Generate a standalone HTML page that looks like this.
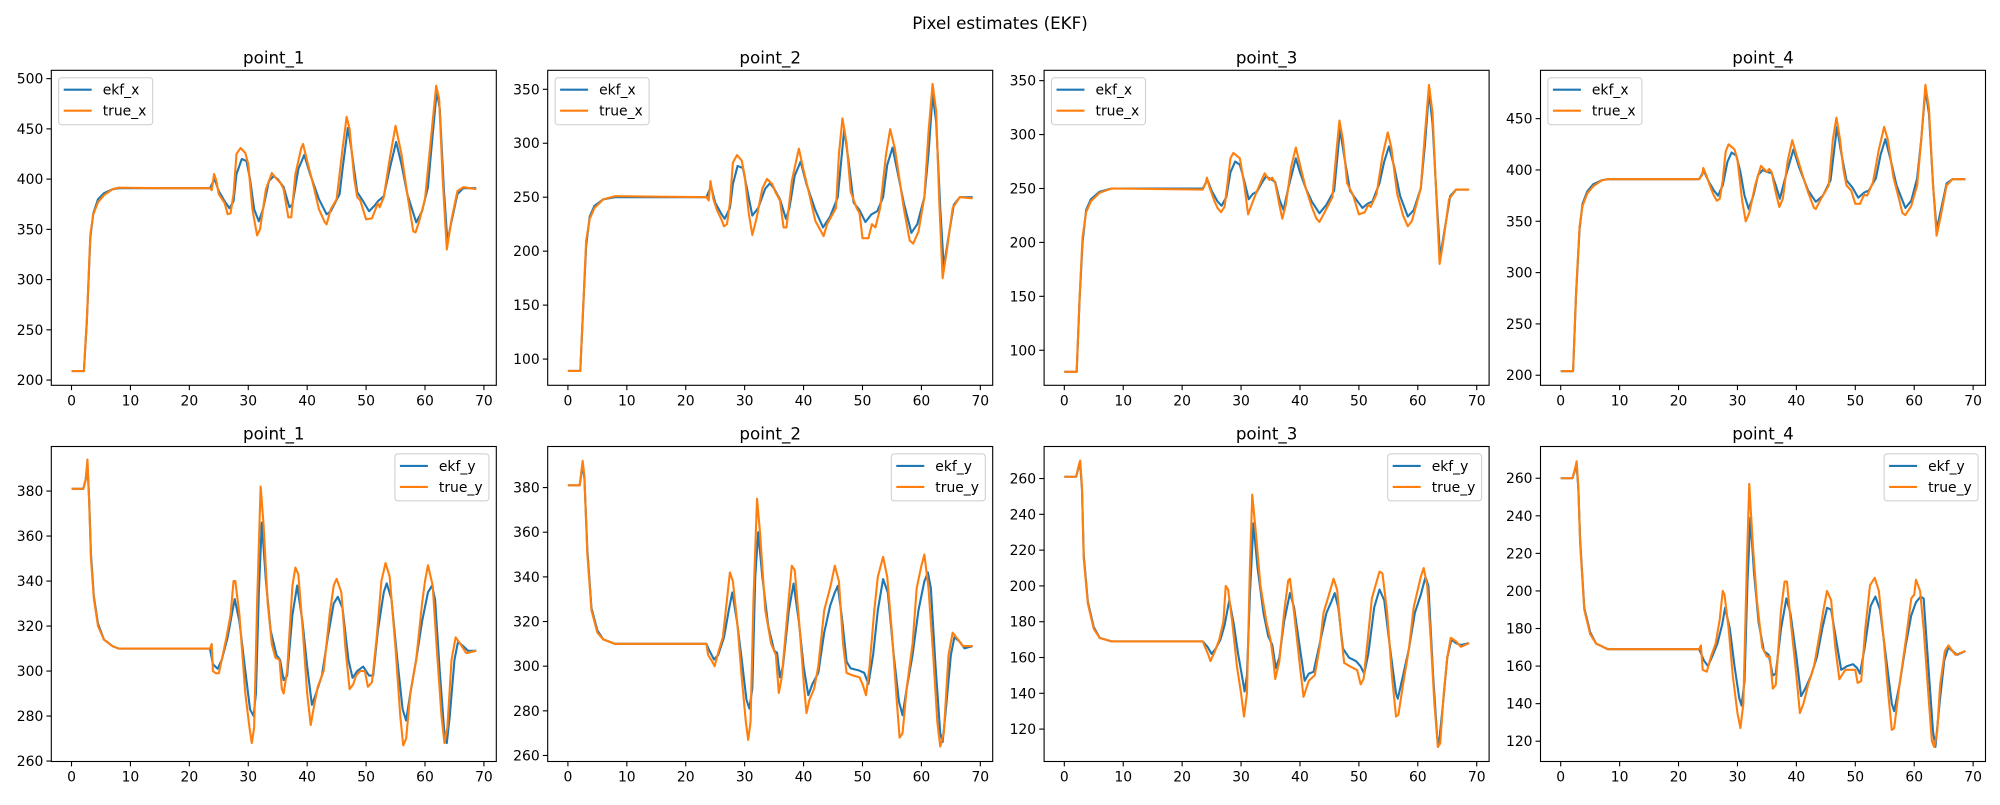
<!DOCTYPE html>
<html><head><meta charset="utf-8"><style>
html,body{margin:0;padding:0;background:#fff;}
svg text{font-family:"DejaVu Sans","Liberation Sans",sans-serif;fill:#000;}
</style></head><body>
<svg id="fig" width="2000" height="800" viewBox="0 0 2000 800" xmlns="http://www.w3.org/2000/svg">
<rect width="2000" height="800" fill="#fff"/>
<text x="1000" y="29" font-size="16.7" text-anchor="middle">Pixel estimates (EKF)</text>
</svg>
<script>
const xTicks=[0,10,20,30,40,50,60,70];
const xLim=[-3.43,72.1];
const titles=["point_1","point_2","point_3","point_4"];
const yLimTop=[[194.8,508.3],[75.7,367.6],[67.5,359.6],[190.2,497.1]];
const yTicksTop=[[200,250,300,350,400,450,500],[100,150,200,250,300,350],[100,150,200,250,300,350],[200,250,300,350,400,450]];
const yLimBot=[[259.8,399.8],[257.3,398.4],[101.9,277.9],[109.2,276.9]];
const yTicksBot=[[260,280,300,320,340,360,380],[260,280,300,320,340,360,380],[120,140,160,180,200,220,240,260],[120,140,160,180,200,220,240,260]];

const trueX1=[[0,209],[2.1,209],[2.6,260],[3.2,345],[3.7,365],[4.5,377],[5.5,384],[7,390],[8,391.5],[15,391],[23.5,391],[23.8,389],[24.2,405],[24.6,398],[25,385],[26,376],[26.5,365],[27,366],[27.5,385],[28,425],[28.7,431],[29.5,426],[30,415],[30.7,370],[31.5,344],[32,350],[33,390],[34,406],[35,399],[35.5,396],[36,390],[36.8,362],[37.3,362],[38,405],[39,431],[39.3,435],[40,418],[41,395],[42,370],[43,357],[43.3,355],[44,370],[45,380],[46,430],[46.7,462],[47.2,450],[48,400],[48.5,382],[49,379],[50,360],[51,361],[52,376],[52.3,372],[53,382],[54,420],[55,453],[56,425],[57,385],[58,348],[58.4,347],[59,358],[60,380],[61,440],[61.9,493],[62.4,480],[63,400],[63.7,330],[64.5,360],[65.5,388],[66.5,392],[68.7,390]];
const ekfX1=[[0,209],[2.1,209],[2.6,258],[3.2,342],[3.7,366],[4.5,380],[5.5,386],[7,390],[8,391],[15,391],[23.5,391],[24.3,400],[25,388],[26,378],[26.8,371],[27.5,378],[28,405],[28.9,420],[29.7,418],[30.3,400],[31,370],[31.8,358],[32.5,370],[33.5,398],[34.3,403],[35,400],[36,392],[37,372],[37.5,375],[38.5,410],[39.5,424],[40.5,405],[42,380],[43.3,365],[44,368],[45.5,385],[46,410],[46.9,451],[47.5,430],[48.5,387],[49.5,378],[50.5,368],[51.5,374],[52,378],[53,383],[54,410],[55.1,437],[56,415],[57,385],[58.5,357],[59.5,368],[60.5,392],[61,425],[62,488],[62.5,470],[63.2,390],[63.8,338],[64.5,358],[65.5,385],[66.5,391],[68.7,391]];
const trueX2=[[0,89],[2.1,89],[2.6,150],[3.1,210],[3.7,230],[4.5,240],[6,248],[8,251],[23.5,250],[23.9,247],[24.2,265],[24.7,248],[25.3,238],[26,230],[26.5,223],[27,225],[27.5,245],[28,282],[28.7,289],[29.5,284],[30,270],[30.7,235],[31.3,215],[32,230],[33,258],[33.8,267],[34.7,262],[35.2,255],[36,247],[36.6,222],[37.1,222],[38,265],[39.2,295],[40,275],[41,252],[42,228],[43,218],[43.4,214],[44,225],[45.5,240],[46,290],[46.6,323],[47.3,300],[48,255],[49,240],[49.5,235],[50,212],[51,212],[51.6,225],[52.2,222],[53,240],[54,290],[54.7,313],[55.5,295],[57,240],[58,210],[58.6,207],[59.5,218],[60.5,250],[61.2,310],[61.9,355],[62.5,330],[63,250],[63.6,175],[64.3,200],[65.3,240],[66.5,250],[68.7,249]];
const ekfX2=[[0,89],[2.1,89],[2.6,148],[3.1,205],[3.7,232],[4.5,242],[6,248],[8,250],[23.5,250],[24.3,260],[25,245],[26,235],[26.6,230],[27.5,240],[28,262],[28.8,279],[29.7,277],[30.5,255],[31.3,233],[32.3,240],[33.5,258],[34.3,263],[35,258],[36,248],[37,230],[37.6,240],[38.5,270],[39.5,283],[40.5,262],[42,238],[43.3,222],[44.5,232],[45.8,250],[46.9,313],[47.6,285],[48.5,245],[49.5,238],[50.5,227],[51.5,234],[52.5,237],[53.5,250],[54.2,280],[55.1,296],[56,272],[57,245],[58.3,217],[59.3,225],[60.5,250],[61.2,290],[61.9,345],[62.5,320],[63.2,240],[63.8,185],[64.5,210],[65.5,243],[66.5,250],[68.7,250]];
const trueX3=[[0,80],[2.1,80],[2.6,150],[3.1,205],[3.7,228],[4.5,238],[6,246],[8,250],[23.5,249],[24,255],[24.2,260],[24.6,252],[25.5,238],[26,232],[26.6,228],[27.2,233],[27.7,255],[28.2,278],[28.7,283],[29.8,278],[30.5,255],[31.2,226],[31.8,235],[32.5,245],[33.5,258],[34,264],[34.8,258],[35.3,260],[35.8,255],[36.5,235],[37,222],[37.6,235],[38.5,270],[39.3,288],[40,272],[41,250],[42,233],[42.8,222],[43.3,219],[44,226],[45.5,242],[46.2,285],[46.7,313],[47.3,295],[48,255],[49,244],[50,226],[51,228],[51.6,235],[52,233],[53,245],[54,280],[54.9,302],[55.5,288],[56.5,245],[57.5,225],[58.3,215],[59,220],[60.5,250],[61.2,300],[61.9,346],[62.5,320],[63,260],[63.7,180],[64.3,200],[65.3,240],[66.5,249],[68.7,249]];
const ekfX3=[[0,80],[2.1,80],[2.6,148],[3.1,200],[3.7,230],[4.5,240],[6,247],[8,250],[23.5,250],[24.3,258],[25,248],[26,238],[26.7,234],[27.5,242],[28.2,265],[29,275],[29.8,272],[30.5,258],[31.3,240],[32,245],[32.7,247],[33.5,255],[34.2,261],[35,259],[35.8,256],[36.5,240],[37.2,230],[38,250],[39.3,278],[40,265],[41,250],[42,238],[43.3,227],[44.5,235],[45.8,248],[46.8,305],[47.5,280],[48.5,248],[49.5,240],[50.6,232],[51.5,236],[52.3,238],[53.5,255],[54.3,275],[55.1,289],[56,270],[57,243],[58.3,224],[59.3,230],[60.5,250],[61.2,290],[61.9,340],[62.5,310],[63.2,240],[63.8,186],[64.5,210],[65.5,243],[66.5,249],[68.7,249]];
const trueX4=[[0,204],[2.1,204],[2.6,280],[3.2,345],[3.7,365],[4.5,377],[5.5,384],[7,390],[8,391],[23.5,391],[24,395],[24.2,402],[24.7,395],[25.5,382],[26,375],[26.5,370],[27,372],[27.5,390],[28,418],[28.5,425],[29.5,420],[30,410],[30.8,370],[31.4,350],[32,358],[33,385],[34,404],[35,398],[35.4,401],[35.8,398],[36.5,378],[37.1,364],[37.7,372],[38.5,408],[39.3,429],[40,415],[41,396],[42,378],[43,363],[43.3,362],[44,370],[45.5,385],[46.2,430],[46.8,451],[47.4,430],[48,400],[48.5,385],[49.3,380],[50,367],[50.8,367],[51.5,376],[52,375],[53,388],[54,420],[54.9,442],[55.5,430],[56.5,392],[57.5,370],[58,358],[58.5,356],[59.5,365],[60.5,385],[61.2,430],[61.9,483],[62.5,460],[63.2,385],[63.8,336],[64.5,355],[65.5,385],[66.5,391],[68.7,391]];
const ekfX4=[[0,204],[2.1,204],[2.6,278],[3.2,342],[3.7,367],[4.5,379],[5.5,386],[7,390],[8,391],[23.5,391],[24.3,399],[25,390],[26,380],[26.7,375],[27.5,385],[28.3,408],[29,417],[29.8,414],[30.5,398],[31.2,375],[31.9,362],[32.7,375],[33.5,395],[34.3,400],[35,398],[35.8,397],[36.5,385],[37.2,372],[38,390],[39.5,420],[40.5,402],[42,380],[43.3,369],[44.5,375],[45.8,390],[46.9,442],[47.5,420],[48.5,390],[49.5,383],[50.5,373],[51.5,378],[52.3,380],[53.5,392],[54.3,415],[55.1,430],[56,410],[57,385],[58.5,363],[59.5,370],[60.5,392],[61.2,430],[61.9,478],[62.5,455],[63.2,385],[63.8,342],[64.5,360],[65.5,387],[66.5,391],[68.7,391]];

const trueY1=[[0,381],[2,381],[2.4,385],[2.7,394],[3,375],[3.3,350],[3.8,332],[4.5,320],[5.5,314],[7,311],[8,310],[10,310],[23.5,310],[23.8,312],[24,300],[24.5,299],[25,299],[25.5,305],[26.3,315],[27,325],[27.5,340],[27.8,340],[28.5,325],[29.5,290],[30.2,275],[30.6,268],[31,275],[31.5,330],[32.1,382],[32.6,365],[33.3,330],[34,312],[34.6,306],[35.3,305],[35.7,292],[36,290],[36.6,300],[37.5,338],[38,346],[38.5,343],[39.2,320],[40,290],[40.6,276],[41.2,285],[41.8,293],[42.8,300],[43.8,325],[44.5,338],[45,341],[45.8,335],[46.5,310],[47.2,292],[47.8,294],[48.3,298],[49,300],[49.8,300],[50.3,293],[51,295],[51.8,315],[52.6,340],[53.3,348],[54,342],[55,310],[55.8,280],[56.3,267],[56.8,270],[57.5,290],[58.5,305],[59.5,330],[60,340],[60.5,347],[61.3,338],[62,310],[62.8,280],[63.3,268],[63.8,275],[64.5,305],[65.2,315],[66,312],[67,308],[68.7,309]];
const ekfY1=[[0,381],[2,381],[2.4,385],[2.7,392],[3,376],[3.3,352],[3.8,333],[4.5,321],[5.5,314],[7,311],[8,310],[10,310],[23.5,310],[24,303],[24.8,301],[25.5,305],[26.5,315],[27.2,325],[27.7,332],[28.5,322],[29.5,300],[30.3,283],[30.9,280],[31.3,290],[31.8,335],[32.3,366],[33,340],[33.8,318],[34.8,307],[35.4,305],[36,296],[36.6,298],[37.5,325],[38.3,338],[39.2,322],[40,302],[40.8,285],[41.5,290],[42.5,298],[43.5,315],[44.5,330],[45.2,333],[46,328],[47,305],[47.7,297],[48.5,300],[49.5,302],[50.5,298],[51.2,298],[52,318],[53,335],[53.5,339],[54.3,332],[55.3,305],[56.2,283],[56.8,278],[57.5,290],[58.5,305],[59.5,322],[60.5,335],[61.2,338],[61.7,332],[62.5,300],[63.3,272],[63.7,268],[64.2,280],[65,305],[65.6,313],[66.5,311],[67.3,309],[68.7,309]];
const trueY2=[[0,381],[2,381],[2.5,392],[2.8,385],[3.3,350],[4,325],[5,315],[6,312],[8,310],[23.5,310],[23.8,305],[24.5,302],[24.9,300],[25.5,306],[26.3,313],[27,330],[27.5,342],[28,338],[28.8,318],[29.5,295],[30.2,275],[30.6,267],[31,275],[31.5,330],[32.1,375],[32.6,360],[33.5,325],[34.5,310],[35.3,305],[35.8,288],[36.3,295],[37.3,325],[38,345],[38.5,343],[39.3,318],[40.1,290],[40.5,279],[41,285],[41.8,290],[42.5,300],[43.5,325],[44.5,335],[45.3,345],[46,338],[46.7,310],[47.3,297],[48.2,296],[49.5,295],[50,292],[50.6,287],[51.2,300],[52,325],[52.6,340],[53.5,349],[54.2,340],[55,315],[55.8,285],[56.3,268],[56.8,270],[57.5,290],[58.5,310],[59.2,335],[60,345],[60.5,350],[61.2,335],[62,305],[62.7,275],[63.2,264],[63.8,270],[64.6,305],[65.3,315],[66.2,312],[67,309],[68.7,309]];
const ekfY2=[[0,381],[2,381],[2.5,390],[2.8,384],[3.3,352],[4,326],[5,316],[6,312],[8,310],[23.5,310],[24,307],[24.8,303],[25.5,305],[26.5,313],[27.3,325],[27.9,333],[28.7,320],[29.5,303],[30.3,285],[30.8,281],[31.3,290],[31.8,340],[32.3,360],[33,340],[34,318],[35,307],[35.5,306],[36,295],[36.5,300],[37.5,325],[38.3,337],[39.2,320],[40,300],[40.8,287],[41.5,292],[42.5,297],[43.5,315],[44.5,327],[45.3,333],[45.8,336],[46.5,322],[47.3,302],[48,299],[49.5,298],[50.3,297],[51,292],[51.8,305],[52.6,325],[53.5,339],[54.3,333],[55.3,305],[56.2,284],[56.8,278],[57.5,290],[58.5,305],[59.5,325],[60.5,338],[61.1,342],[61.6,335],[62.4,300],[63.2,270],[63.6,266],[64.2,282],[65,305],[65.6,313],[66.5,311],[67.3,308],[68.7,309]];
const trueY3=[[0,261],[2,261],[2.5,268],[2.7,270],[3,255],[3.3,215],[4,190],[5,176],[6,171],[8,169],[23.5,169],[24,165],[24.5,161],[24.8,158],[25.5,163],[26.3,170],[27,180],[27.4,200],[27.8,198],[28.5,180],[29.3,155],[30,140],[30.5,127],[31,140],[31.5,210],[31.9,251],[32.5,230],[33.3,200],[34.3,180],[35,170],[35.5,158],[35.8,148],[36.5,158],[37.3,185],[38,203],[38.3,204],[39,185],[40,155],[40.6,138],[41,142],[41.5,147],[42.5,150],[43.3,165],[44,185],[45,196],[45.7,204],[46.3,198],[47,172],[47.5,157],[48.5,155],[49.7,153],[50.3,145],[50.8,148],[51.5,170],[52.2,193],[52.8,200],[53.5,208],[54,207],[54.8,185],[55.6,150],[56.3,127],[56.7,128],[57.5,145],[58.5,165],[59.3,188],[60,198],[60.5,205],[61,210],[61.6,200],[62.2,170],[62.8,135],[63.4,110],[63.8,112],[64.4,140],[65,160],[65.6,171],[66.5,169],[67.3,166],[68.7,168]];
const ekfY3=[[0,261],[2,261],[2.5,267],[2.7,268],[3,254],[3.3,217],[4,191],[5,177],[6,171],[8,169],[23.5,169],[24.3,166],[25,162],[25.7,165],[26.5,170],[27.2,178],[28,192],[28.8,178],[29.5,162],[30.3,147],[30.6,141],[31,150],[31.5,195],[32.1,235],[32.8,210],[33.8,185],[34.6,172],[35.3,167],[35.9,154],[36.5,160],[37.3,180],[38.3,196],[39,188],[40,165],[40.8,147],[41.5,151],[42.3,152],[43.5,170],[44.5,185],[45.3,191],[45.9,196],[46.5,188],[47.3,165],[48.3,160],[49.5,158],[50.3,155],[50.9,151],[51.6,162],[52.6,188],[53.5,198],[54.3,192],[55.3,165],[56.3,140],[56.6,137],[57.5,150],[58.5,165],[59.5,185],[60.5,195],[61.3,205],[61.8,200],[62.6,150],[63.3,115],[63.6,112],[64.3,135],[65,160],[65.7,170],[66.5,168],[67.3,167],[68.7,168]];
const trueY4=[[0,260],[2,260],[2.5,266],[2.7,269],[3,255],[3.3,225],[4,190],[5,177],[6,172],[8,169],[23.5,169],[23.8,171],[24.1,158],[24.8,157],[25.5,165],[26.3,172],[27,185],[27.5,200],[27.8,198],[28.5,180],[29.2,155],[30,135],[30.5,127],[31,140],[31.6,215],[32,257],[32.6,225],[33.3,195],[34.2,170],[35,165],[35.5,165],[36,148],[36.5,150],[37.4,190],[38,205],[38.4,205],[39,185],[40,155],[40.6,135],[41.2,140],[42,150],[43,160],[44,178],[44.6,190],[45.2,200],[45.9,195],[46.6,170],[47.3,153],[48.3,158],[49.3,158],[50,158],[50.4,151],[51,152],[51.7,180],[52.5,203],[53.3,207],[54,200],[54.8,175],[55.6,145],[56.2,126],[56.6,127],[57.5,150],[58.5,172],[59.5,196],[60,198],[60.3,206],[61,200],[61.6,180],[62.4,145],[63,120],[63.4,117],[63.9,125],[64.4,150],[65.2,168],[65.8,171],[66.5,168],[67,166],[68.7,168]];
const ekfY4=[[0,260],[2,260],[2.5,265],[2.7,267],[3,254],[3.3,227],[4,191],[5,178],[6,172],[8,169],[23.5,169],[24.3,163],[25,160],[25.7,165],[26.6,172],[27.4,182],[27.9,191],[28.7,180],[29.5,160],[30.3,143],[30.7,139],[31.2,152],[31.7,205],[32.2,239],[32.8,210],[33.6,183],[34.5,168],[35.3,166],[36,155],[36.5,156],[37.4,180],[38.3,196],[39,188],[40,165],[40.8,144],[41.5,148],[42.5,155],[43.5,165],[44.4,180],[45.2,191],[45.9,190],[46.7,175],[47.6,158],[48.6,160],[49.6,161],[50.3,159],[50.8,156],[51.6,170],[52.6,192],[53.4,197],[54.2,190],[55.2,165],[56.2,140],[56.6,136],[57.5,150],[58.5,170],[59.5,187],[60.3,194],[61.1,197],[61.6,196],[62.4,160],[63.2,125],[63.6,117],[64.3,140],[65.1,163],[65.8,170],[66.5,168],[67.3,166],[68.7,168]];

const NS="http://www.w3.org/2000/svg";
const svg=document.getElementById('fig');
function mk(tag,attrs,parent){const e=document.createElementNS(NS,tag);for(const k in attrs)e.setAttribute(k,attrs[k]);(parent||svg).appendChild(e);return e;}

const panels=[
 {col:0,row:0,e:ekfX1,t:trueX1},{col:1,row:0,e:ekfX2,t:trueX2},{col:2,row:0,e:ekfX3,t:trueX3},{col:3,row:0,e:ekfX4,t:trueX4},
 {col:0,row:1,e:ekfY1,t:trueY1},{col:1,row:1,e:ekfY2,t:trueY2},{col:2,row:1,e:ekfY3,t:trueY3},{col:3,row:1,e:ekfY4,t:trueY4}];
const W=445,H=315;
panels.forEach(p=>{
  const L=51.3+p.col*496.4, T=p.row===0?70.3:446.5;
  const ylim=p.row===0?yLimTop[p.col]:yLimBot[p.col];
  const yt=p.row===0?yTicksTop[p.col]:yTicksBot[p.col];
  const sx=v=>L+(v-xLim[0])/(xLim[1]-xLim[0])*W;
  const sy=v=>T+H-(v-ylim[0])/(ylim[1]-ylim[0])*H;
  const g=mk('g',{});
  
  
  const ttl=mk('text',{x:L+W/2,y:T-7,'font-size':16.7,'text-anchor':'middle'},g);
  ttl.textContent=titles[p.col];
  
  
  const cp='cp'+p.row+p.col;
  const cl=mk('clipPath',{id:cp},g);mk('rect',{x:L,y:T,width:W,height:H},cl);
  [[p.e,'#1f77b4','ekf'],[p.t,'#ff7f0e','true']].forEach(([d,c,n])=>{
    const pl=mk('polyline',{points:d.map(q=>sx(q[0]).toFixed(2)+','+sy(q[1]).toFixed(2)).join(' '),fill:'none',stroke:c,'stroke-width':2.1,'stroke-linejoin':'round','clip-path':'url(#'+cp+')'},g);
    
    
  });
  const fr=mk('rect',{x:L,y:T,width:W,height:H,fill:'none',stroke:'#000','stroke-width':1.1},g);
  
  
  xTicks.forEach(v=>{
    const x=sx(v);
    mk('line',{x1:x,x2:x,y1:T+H,y2:T+H+4.9,stroke:'#000','stroke-width':1.1},g);
    const tx=mk('text',{x:x,y:T+H+20,'font-size':13.9,'text-anchor':'middle'},g);
    tx.textContent=v;
    
    
  });
  yt.forEach(v=>{
    const y=sy(v);
    mk('line',{x1:L-4.9,x2:L,y1:y,y2:y,stroke:'#000','stroke-width':1.1},g);
    const tx=mk('text',{x:L-8,y:y+5,'font-size':13.9,'text-anchor':'end'},g);
    tx.textContent=v;
    
    
  });
  const lw=94, lh=47;
  const lx=p.row===0?L+7.4:L+W-7.4-lw, ly=T+7.4;
  const lg=mk('g',{},g);
  
  
  mk('rect',{x:lx,y:ly,width:lw,height:lh,rx:3,fill:'#fff','fill-opacity':0.8,stroke:'#ccc','stroke-width':1},lg);
  const nm=p.row===0?['ekf_x','true_x']:['ekf_y','true_y'];
  [['#1f77b4',nm[0]],['#ff7f0e',nm[1]]].forEach(([c,n],i)=>{
    const yy=ly+12+i*21;
    mk('line',{x1:lx+5,x2:lx+33,y1:yy,y2:yy,stroke:c,'stroke-width':2.1},lg);
    const tx=mk('text',{x:lx+44,y:yy+5,'font-size':13.9},lg);
    tx.textContent=n;
    
    
  });
});
</script>
</body></html>
